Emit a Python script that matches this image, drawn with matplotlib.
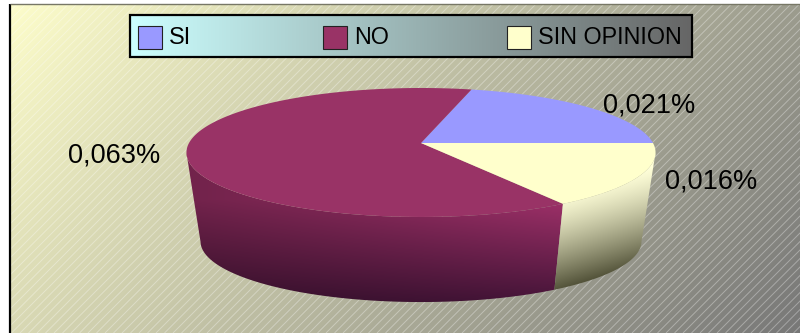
import numpy as np
import matplotlib
matplotlib.use('Agg')
import matplotlib.pyplot as plt
from matplotlib.collections import LineCollection
from matplotlib.colors import LinearSegmentedColormap
from matplotlib.patches import Polygon, Rectangle

plt.rcParams['font.family'] = ['Liberation Sans', 'DejaVu Sans']

# ----------------------------------------------------------------
# data:

categories = ['SI', 'NO', 'SIN OPINION']
values = [0.021, 0.063, 0.016]
slice_colors = ['#9999FF', '#993366', '#FFFFCC']

# ----------------------------------------------------------------
# layout, in pixels:

W, H = 800, 333
cx, cy = 421.0, 143.0       # hub of the top face
cy_low = 232.5              # hub of the bottom face
rad_x, rad_y = 232.0, 63.1
tilt = 0.147                # perspective strength
shrink = 0.94               # bottom face vs top face

legend_x = [138, 323, 507]
label_xy = [(649, 105), (114, 156), (711, 181)]

# ----------------------------------------------------------------
# functions:

# Project an angle on the disc (degrees) to the screen
def rim(deg, low=False):
    t = np.radians(deg)
    u, v = np.cos(t), -np.sin(t)
    w = 1 - tilt * v
    if low:
        return cx + shrink * rad_x * u / w, cy_low + shrink * rad_y * v / w
    return cx + rad_x * u / w, cy + rad_y * v / w


# Fill a polygon with an RGB image built per pixel
def shaded(ax, pts, rgb_func):
    xx, yy = np.meshgrid(np.arange(W) + 0.5, np.arange(H) + 0.5)
    img = np.clip(rgb_func(xx, yy), 0, 1)
    im = ax.imshow(img, extent=(0, W, H, 0), aspect='auto', interpolation='bilinear', zorder=3)
    im.set_clip_path(Polygon(pts, closed=True, transform=ax.transData))


def mix(c0, c1, t):
    c0, c1 = np.array(c0), np.array(c1)
    return c0 + (c1 - c0) * t[..., None]


# The part of an angle range that faces the viewer, cut at the silhouette
def visible(a0, a1):
    a = np.linspace(a0, a1, 400)
    x, y = rim(a)
    if a0 < 180:
        return a[np.argmin(x):]
    return a[:np.argmax(x) + 1]


fig = plt.figure(figsize=(W / 100, H / 100), dpi=100)
ax = fig.add_axes([0, 0, 1, 1])

# ----------------------------------------------------------------
# background: diagonal gradient with fine light hatching

xx, yy = np.meshgrid(np.arange(W) + 0.5, np.arange(H) + 0.5)
bg = mix((1.0, 1.0, 0.8), (0.467, 0.467, 0.467), np.clip((xx + 0.9 * yy) / 1100, 0, 1))
back = ax.imshow(bg, extent=(0, W, H, 0), aspect='auto', zorder=0)
back.set_clip_path(Rectangle((10, 4), W - 10, H - 4, transform=ax.transData))

segs = [[(x, 333), (x + 329, 4)] for x in np.arange(-320, 800, 8.5)]
hatch = LineCollection(segs, colors='white', linewidths=0.7, alpha=0.33, zorder=1)
ax.add_collection(hatch)
hatch.set_clip_path(Rectangle((10, 4), W - 10, H - 4, transform=ax.transData))

ax.plot([10, 10], [4, H], color='black', lw=1.6, zorder=2, solid_capstyle='butt')
ax.plot([10, W], [4, 4], color='#777766', lw=1.0, zorder=2, solid_capstyle='butt')

# ----------------------------------------------------------------
# pie: slice angles come from the values, starting at the east edge

fracs = np.array(values) / np.sum(values)
edges = np.concatenate([[0], np.cumsum(fracs) * 360])


def no_wall(x, y):
    xt = np.clip((x - 190) / 370, 0, 1)
    yt = np.clip((y - 200) / 102, 0, 1)
    col = mix((0.62, 0.19, 0.41), (0.27, 0.08, 0.22), yt)
    return col * (0.72 + 0.28 * xt)[..., None]


# Cream side darkens downwards and a little towards the outer edge
def cream_wall(x, y):
    yt = np.clip((y + 0.3 * (x - 555) - 195) / 95, 0, 1) ** 1.3
    return mix((1.0, 1.0, 0.85), (0.33, 0.33, 0.23), yt)


wall_funcs = [None, no_wall, cream_wall]
for i in [1, 2]:
    a = visible(edges[i], edges[i + 1])
    top = np.column_stack(rim(a))
    low = np.column_stack(rim(a, low=True))
    shaded(ax, np.vstack([top, low[::-1]]), wall_funcs[i])

for i in range(3):
    a = np.linspace(edges[i], edges[i + 1], 200)
    pts = np.vstack([[(cx, cy)], np.column_stack(rim(a))])
    ax.add_patch(Polygon(pts, closed=True, facecolor=slice_colors[i], edgecolor='none', zorder=4))

for (lx, ly), v in zip(label_xy, values):
    txt = f'{v:.3f}'.replace('.', ',') + '%'
    ax.text(lx, ly, txt, fontsize=19.5, color='black', ha='center', va='center', zorder=6)

# ----------------------------------------------------------------
# legend box with a horizontal gradient

ramp = np.linspace(0, 1, 256)[None, :]
leg_cmap = LinearSegmentedColormap.from_list('leg', ['#CCFFFF', '#666666'])
ax.imshow(ramp, extent=(130, 692, 57, 15), aspect='auto', cmap=leg_cmap, zorder=5)
ax.add_patch(Rectangle((130, 15), 562, 42, fill=False, edgecolor='black', lw=1.6, zorder=6))

for x0, name, col in zip(legend_x, categories, slice_colors):
    ax.add_patch(Rectangle((x0, 25.5), 23.5, 23, facecolor=col, edgecolor='#222222', lw=0.8, zorder=6))
    ax.text(x0 + 31, 37, name, fontsize=16.8, color='black', ha='left', va='center', zorder=7)

ax.set_xlim(0, W)
ax.set_ylim(H, 0)
ax.axis('off')
fig.savefig('out.png', dpi=100, facecolor='white')
